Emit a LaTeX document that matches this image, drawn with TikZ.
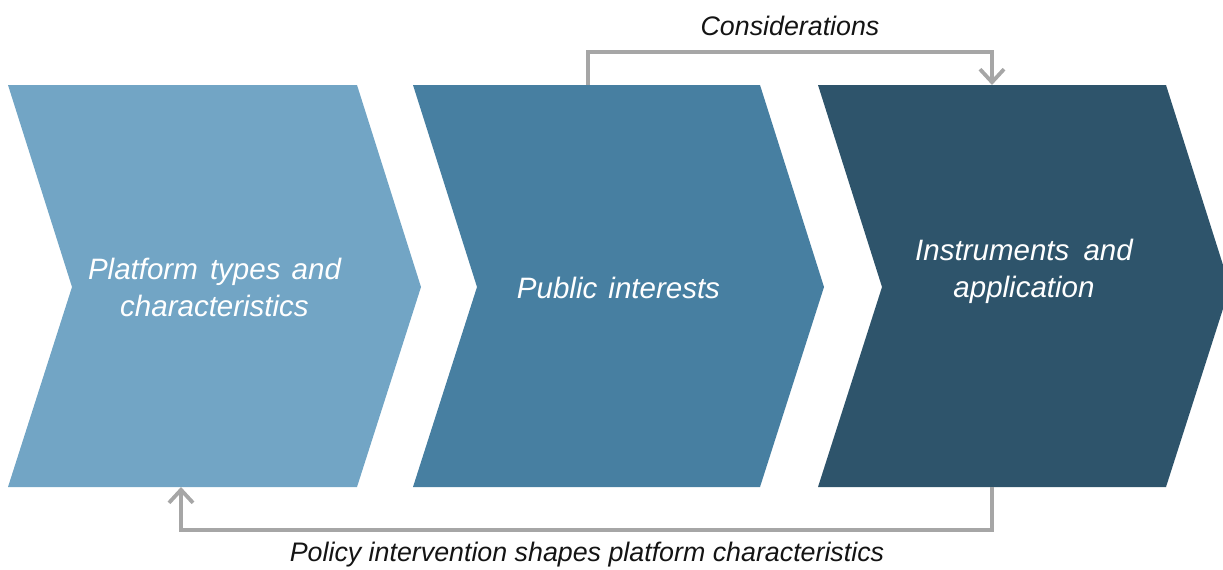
\documentclass[tikz,border=0pt]{standalone}
\usepackage{fontspec}
\setmainfont{Liberation Sans}
\usetikzlibrary{arrows.meta}
\definecolor{chevA}{RGB}{114,165,197}
\definecolor{chevB}{RGB}{71,127,161}
\definecolor{chevC}{RGB}{46,84,107}
\definecolor{connc}{RGB}{166,166,166}
\definecolor{txtc}{RGB}{20,20,20}
\begin{document}
\begin{tikzpicture}[x=1pt,y=-1pt,
  lbl/.style={text=white,font=\fontsize{29.5}{37}\selectfont\itshape,align=center,inner sep=0pt},
  captxt/.style={text=txtc,font=\fontsize{26.8}{32}\selectfont\itshape,inner sep=0pt,anchor=base},
  conn/.style={draw=connc,line width=3.8pt,-{Straight Barb[length=13pt,width=24pt]}}]
\useasboundingbox (0,0) rectangle (1223,570);
% chevrons
\fill[chevA] (8,85) -- (357,85) -- (421,287) -- (357,487) -- (8,487) -- (72,287) -- cycle;
\fill[chevB] (413,85) -- (760,85) -- (824,287) -- (760,487) -- (413,487) -- (477,287) -- cycle;
\fill[chevC] (818,85) -- (1166,85) -- (1230,287) -- (1166,487) -- (818,487) -- (882,287) -- cycle;
% labels
\node[lbl] (platform) at (214.5,287) {Platform\hspace{4pt} types\hspace{3pt} and\\characteristics};
\node[lbl] (public) at (618.5,288) {Public\hspace{3pt} interests};
\node[lbl] (instr) at (1024,271) {Instruments\hspace{6pt} and\\application};
% connector endpoints
\coordinate (ctop2) at (588,85);
\coordinate (ctop3) at (992,85);
\coordinate (cbot3) at (992,487);
\coordinate (cbot1) at (181,487);
\draw[conn] (ctop2) -- ++(0,-33) -| (ctop3);
\draw[conn] (cbot3) -- ++(0,43) -| (cbot1);
% captions
\node[captxt] (consid) at (790,35) {Considerations};
\node[captxt] (policy) at (587,561) {Policy intervention shapes platform characteristics};
\end{tikzpicture}
\end{document}
